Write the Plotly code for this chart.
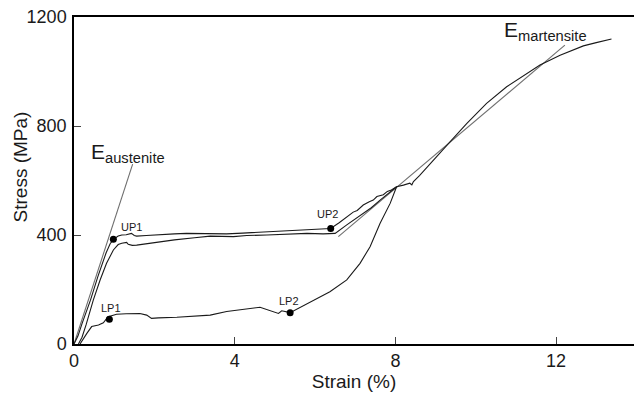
import plotly.graph_objects as go

# Loading curve 1 (upper plateau)
load1_strain = [0, 0.1, 0.2, 0.41, 0.6, 0.8, 0.9, 0.98, 1.1, 1.19, 1.3, 1.43, 1.5, 1.56, 1.8, 2.14, 2.5, 2.8,
                3.14, 3.39, 3.8, 4.2, 4.6, 5.13, 5.5, 5.8, 6.1, 6.39, 6.6, 6.79, 6.95, 7.05, 7.2, 7.35, 7.45,
                7.54, 7.7, 7.8, 7.9, 8.03]
load1_stress = [0, 30, 75, 161, 250, 335, 368, 384, 396, 400, 401, 406, 398, 396, 398, 402, 404, 406,
                406, 404, 404, 407, 410, 412, 415, 418, 421, 424, 445, 467, 484, 490, 510, 522, 528,
                541, 548, 560, 565, 577]

# Loading curve 2 (lower plateau, continues to fracture)
load2_strain = [0.11, 0.2, 0.3, 0.48, 0.65, 0.81, 0.98, 1.1, 1.19, 1.31, 1.35, 1.45, 1.56, 1.8, 2.14, 2.5,
                3.0, 3.39, 3.97, 4.3, 4.8, 5.13, 5.5, 5.8, 6.2, 6.5, 6.79, 7.0, 7.2, 7.4, 7.62, 7.85, 8.03,
                8.2, 8.36, 8.41, 8.45, 8.6, 8.94, 9.36, 9.78, 10.27, 10.77, 11.27, 11.6, 12.1, 12.68,
                13.0, 13.38]
load2_stress = [0, 25, 70, 161, 235, 296, 345, 365, 370, 373, 366, 362, 363, 368, 375, 382,
                390, 396, 394, 398, 400, 402, 404, 406, 404, 406, 437, 458, 480, 500, 528, 556, 577,
                583, 590, 584, 596, 618, 675, 742, 810, 883, 944, 993, 1024, 1060, 1094,
                1106, 1119]

# Unloading curve (lower plateau)
unload_strain = [8.03, 7.95, 7.87, 7.62, 7.37, 7.12, 6.79, 6.37, 5.96, 5.63, 5.38, 5.17, 5.09, 4.63, 4.2,
                 3.8, 3.39, 3.0, 2.56, 2.1, 1.93, 1.81, 1.64, 1.3, 1.06, 0.85, 0.73, 0.61, 0.44, 0.32, 0.15]
unload_stress = [577, 545, 516, 443, 357, 296, 235, 192, 161, 137, 115, 122, 112, 135, 128,
                 119, 106, 102, 98, 96, 94, 106, 112, 111, 109, 100, 78, 70, 64, 39, 0]

# Elastic modulus tangent lines
e_aus_strain = [0, 1.46]
e_aus_stress = [0, 660]
e_mart_strain = [6.58, 12.22]
e_mart_stress = [394, 1097]

# Marked points
pt_labels = ["UP1", "LP1", "UP2", "LP2"]
pt_strain = [0.98, 0.88, 6.39, 5.38]
pt_stress = [384, 91, 424, 115]
lbl_strain = [1.42, 0.92, 6.30, 5.35]
lbl_stress = [429, 132, 477, 158]

x_ticks = [0, 4, 8, 12]
y_ticks = [0, 400, 800, 1200]

FONT = "Liberation Sans, Arial, sans-serif"
fig = go.Figure()
curve = dict(color="#1a1a1a", width=1.1)
gray = dict(color="#6e6e6e", width=1.1)
fig.add_trace(go.Scatter(x=e_aus_strain, y=e_aus_stress, mode="lines", line=gray))
fig.add_trace(go.Scatter(x=e_mart_strain, y=e_mart_stress, mode="lines", line=gray))
fig.add_trace(go.Scatter(x=load1_strain, y=load1_stress, mode="lines", line=curve))
fig.add_trace(go.Scatter(x=load2_strain, y=load2_stress, mode="lines", line=curve))
fig.add_trace(go.Scatter(x=unload_strain, y=unload_stress, mode="lines", line=curve))
fig.add_trace(go.Scatter(x=pt_strain, y=pt_stress, mode="markers",
                         marker=dict(color="black", size=7)))

for t, x, y in zip(pt_labels, lbl_strain, lbl_stress):
    fig.add_annotation(x=x, y=y, text=t, showarrow=False,
                       font=dict(family=FONT, size=11, color="#1a1a1a"))

fig.add_annotation(x=0.38, y=700, text="E<sub>austenite</sub>", showarrow=False,
                   xanchor="left", yanchor="middle", font=dict(family=FONT, size=21, color="#1a1a1a"))
fig.add_annotation(x=10.65, y=1150, text="E<sub>martensite</sub>", showarrow=False,
                   xanchor="left", yanchor="middle", font=dict(family=FONT, size=21, color="#1a1a1a"))

fig.add_annotation(xref="paper", yref="paper", x=-0.0964, y=0.54, xanchor="center", yanchor="middle",
                   text="Stress (MPa)", textangle=-90,
                   showarrow=False, font=dict(family=FONT, size=19, color="#1a1a1a"))

fig.update_layout(
    width=634, height=394,
    margin=dict(l=74, r=0, t=17, b=50),
    plot_bgcolor="white", paper_bgcolor="white",
    showlegend=False,
    font=dict(family=FONT, size=18, color="#1a1a1a"),
    xaxis=dict(range=[0, 13.94], tickvals=x_ticks, ticks="inside", ticklen=7, tickwidth=1.3,
               showline=True, linecolor="black", linewidth=1.5, mirror=True, showgrid=False,
               zeroline=False, title=dict(text="Strain (%)", font=dict(size=19), standoff=4)),
    yaxis=dict(range=[0, 1200], tickvals=y_ticks, ticks="inside", ticklen=7, tickwidth=1.3,
               showline=True, linecolor="black", linewidth=1.5, showgrid=False, zeroline=False,
               ticklabelstandoff=2),
)
fig.write_html("out.html")
